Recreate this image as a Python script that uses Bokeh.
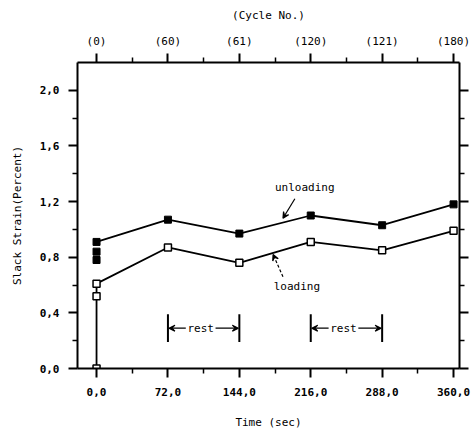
from bokeh.plotting import figure
from bokeh.models import LinearAxis, FixedTicker, Range1d, Arrow, VeeHead
from bokeh.core.properties import value
from bokeh.embed import file_html
from bokeh.resources import INLINE

# data
time_ticks = [0, 72, 144, 216, 288, 360]
time_minor = [36, 108, 180, 252, 324]
time_labels = ["0,0", "72,0", "144,0", "216,0", "288,0", "360,0"]
cycle_labels = ["(0)", "(60)", "(61)", "(120)", "(121)", "(180)"]
strain_ticks = [0.0, 0.4, 0.8, 1.2, 1.6, 2.0]
strain_minor = [0.2, 0.6, 1.0, 1.4, 1.8]
strain_labels = ["0,0", "0,4", "0,8", "1,2", "1,6", "2,0"]

time_load = [0, 0, 0, 72, 144, 216, 288, 360]
strain_load = [0.0, 0.52, 0.61, 0.87, 0.76, 0.91, 0.85, 0.99]
time_unload = [0, 0, 0, 72, 144, 216, 288, 360]
strain_unload = [0.78, 0.84, 0.91, 1.07, 0.97, 1.10, 1.03, 1.18]

rest_from = [72, 216]
rest_to = [144, 288]

FONT = "DejaVu Sans Mono"

p = figure(width=473, height=431, x_range=Range1d(-19.2, 366), y_range=Range1d(0, 2.2),
           output_backend="svg", toolbar_location=None,
           x_axis_location=None, y_axis_location=None,
           min_border_left=77, min_border_right=14, min_border_top=62, min_border_bottom=63)
p.grid.visible = False
p.outline_line_color = None


def style(ax):
    ax.axis_line_width = 2
    ax.major_tick_line_width = 2
    ax.minor_tick_line_width = 1.5
    ax.major_tick_in = 0
    ax.major_tick_out = 9
    ax.minor_tick_in = 0
    ax.minor_tick_out = 5
    ax.major_label_text_font = FONT
    ax.major_label_text_font_style = "bold"
    ax.major_label_text_font_size = "11px"
    ax.major_label_text_color = "black"
    ax.axis_label_text_font = FONT
    ax.axis_label_text_font_style = "normal"
    ax.axis_label_text_font_size = "11px"
    ax.axis_label_text_color = "black"
    return ax


xt = FixedTicker(ticks=time_ticks, minor_ticks=time_minor)
yt = FixedTicker(ticks=strain_ticks, minor_ticks=strain_minor)

bottom = style(LinearAxis(ticker=xt, axis_label="Time (sec)"))
bottom.major_label_overrides = dict(zip(time_ticks, time_labels))
bottom.major_label_standoff = 10
bottom.axis_label_standoff = 17
p.add_layout(bottom, "below")

top = style(LinearAxis(ticker=xt, axis_label="(Cycle No.)"))
top.major_label_overrides = dict(zip(time_ticks, cycle_labels))
top.major_label_text_font_style = "normal"
top.major_label_standoff = 6
top.axis_label_standoff = 10
p.add_layout(top, "above")

left = style(LinearAxis(ticker=yt, axis_label="Slack Strain(Percent)"))
left.major_label_overrides = dict(zip(strain_ticks, strain_labels))
left.major_label_standoff = 9
left.axis_label_standoff = 13
p.add_layout(left, "left")

right = style(LinearAxis(ticker=yt))
right.major_label_overrides = {t: "" for t in strain_ticks}
right.major_label_standoff = 0
p.add_layout(right, "right")

# series
p.line(time_load, strain_load, line_color="black", line_width=1.8)
p.line(time_unload[2:], strain_unload[2:], line_color="black", line_width=1.8)
p.scatter(time_load, strain_load, marker="square", size=7,
          fill_color="white", line_color="black", line_width=1.5)
p.scatter(time_unload, strain_unload, marker="square", size=7,
          fill_color="black", line_color="black")

# rest markers
bars = rest_from + rest_to
p.segment(x0=bars, y0=[0.19] * 4, x1=bars, y1=[0.39] * 4, line_color="black", line_width=2)
mids = [(a + b) / 2 - 3 for a, b in zip(rest_from, rest_to)]
p.text(x=mids, y=[0.29] * 2, text=["rest"] * 2, text_font=value(FONT),
       text_font_size="11px", text_align="center", text_baseline="middle")
for a, b, m in zip(rest_from, rest_to, mids):
    p.add_layout(Arrow(end=VeeHead(size=6, line_width=1.2), x_start=m - 15, y_start=0.29,
                       x_end=a + 1, y_end=0.29, line_width=1.2))
    p.add_layout(Arrow(end=VeeHead(size=6, line_width=1.2), x_start=m + 15, y_start=0.29,
                       x_end=b - 1, y_end=0.29, line_width=1.2))

# curve labels
p.text(x=[210, 202], y=[1.30, 0.59], text=["unloading", "loading"], text_font=value(FONT),
       text_font_size="11px", text_align="center", text_baseline="middle")
p.add_layout(Arrow(end=VeeHead(size=6, line_width=1.2), x_start=200, y_start=1.22,
                   x_end=188, y_end=1.08, line_width=1.2))
p.add_layout(Arrow(end=VeeHead(size=6, line_width=1.2), x_start=188, y_start=0.66,
                   x_end=178, y_end=0.82, line_width=1.2, line_dash="3 2"))

open("out.html", "w").write(file_html(p, INLINE))
